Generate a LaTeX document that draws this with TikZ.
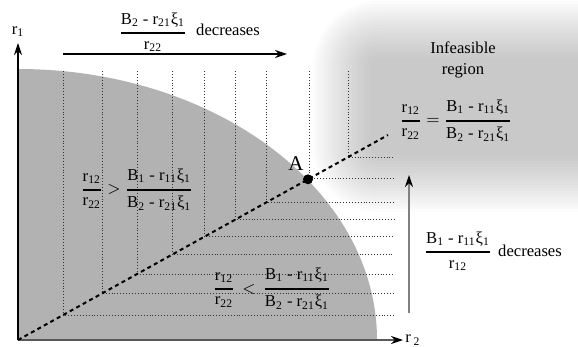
\documentclass[tikz,border=0pt]{standalone}
\usepackage{amsmath}
\usepackage{fontspec}
\setmainfont{Liberation Serif}
\usetikzlibrary{arrows.meta}
\newcommand{\rr}[1]{r\textsubscript{#1}}
\newcommand{\numA}{B\textsubscript{1} - \rr{11}ξ\textsubscript{1}}
\newcommand{\numB}{B\textsubscript{2} - \rr{21}ξ\textsubscript{1}}
\newcommand{\fr}[2]{\ensuremath{\genfrac{}{}{0.9pt}{0}{\hbox{#1}}{\hbox{#2}}}}
\begin{document}
\begin{tikzpicture}[x=0.5pt, y=-0.5pt, every node/.style={font=\fontsize{8.3}{10.5}\selectfont, inner sep=1pt}]
\tikzset{
    feasible/.style={fill=black!30},
    gridline/.style={densely dotted, line width=0.45pt, black!80},
    ratioline/.style={dash pattern=on 2pt off 1.7pt, line width=1pt},
    axis/.style={line width=0.6pt, -{Stealth[length=6pt, width=4pt, black]}},
}
\useasboundingbox (0,0) rectangle (578,347);
% --- regione non ammissibile ---
\begin{scope}
    \clip (0,0) rectangle (578,347);
    \foreach \i [evaluate=\i as \d using 3*\i, evaluate=\i as \r using 1.5*\i+4] in {0,...,19} {
        \fill[black!50, opacity=0.029, rounded corners=\r pt] (370-\d,58-\d) rectangle (650+\d,155+\d);
    }
\end{scope}
% --- regione ammissibile ---
\begin{scope}
    \clip (18,0) rectangle (420,340);
    \fill[feasible] (18,340) ellipse [x radius=359, y radius=271];
\end{scope}
% --- griglia ---
\foreach \x [evaluate=\x as \y using 340-205/370*(\x-18)] in {63,102,137,172,204,235,266,309,348} {
    \draw[gridline] (\x,71) -- (\x,\y) -- (394,\y);
}
% --- assi ---
\coordinate (O) at (18,340);
\coordinate (r1end) at (18,43);
\coordinate (r2end) at (403,340);
\draw[axis] (O) -- (r1end);
\draw[axis, black!65] (O) -- (r2end);
\node (r1lab) at (18,32) {\rr{1}};
\node[right] (r2lab) at (r2end) {r\,\textsubscript{2}};
% --- retta e punto A ---
\coordinate (E) at (388,135);
\draw[ratioline] (O) -- (E);
\node[circle, fill=black, inner sep=0pt, minimum size=5pt] (A) at (308,179.3) {};
\node[font=\fontsize{10.5}{12}\selectfont] (Alab) at (296,164) {A};
% --- frecce ---
\coordinate (topL) at (63,54);
\coordinate (topR) at (287,54);
\draw[axis] (topL) -- (topR);
\coordinate (rightB) at (409,313);
\coordinate (rightT) at (409,175);
\draw[axis, black!50] (rightB) -- (rightT);
% --- testi ---
\node (topfrac) at (153,32) {\fr{\numB}{\rr{22}}};
\node (topdec) at (228,30) {decreases};
\node (rightfrac) at (458,251) {\fr{\numA}{\rr{12}}};
\node (rightdec) at (530,251) {decreases};
\node[align=center] (infeas) at (463,60) {Infeasible\\region};
\node (eqline) at (456,121) {\fr{\rr{12}}{\rr{22}} $=$ \fr{\numA}{\numB}};
\node (ineqgt) at (137,190) {\fr{\rr{12}}{\rr{22}} $>$ \fr{\numA}{\numB}};
\node (ineqlt) at (272,289) {\fr{\rr{12}}{\rr{22}}\, $<$\, \fr{\numA}{\numB}};
\end{tikzpicture}
\end{document}
